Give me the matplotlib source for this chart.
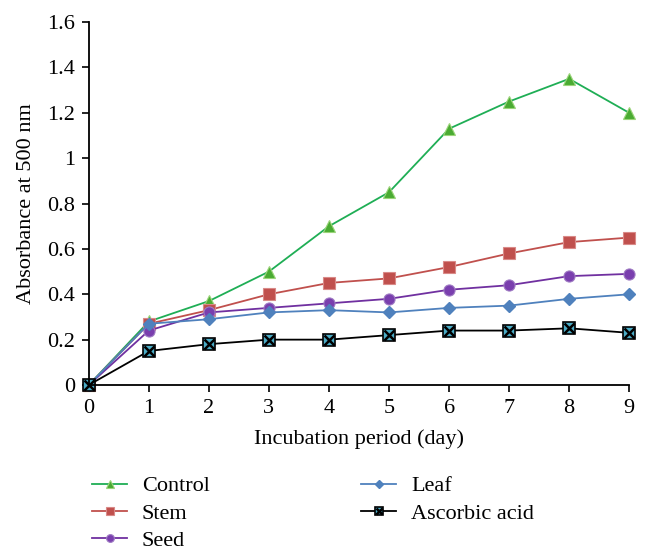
import matplotlib.pyplot as plt

plt.rcParams['font.family'] = ['Liberation Serif', 'DejaVu Serif']

days = [0, 1, 2, 3, 4, 5, 6, 7, 8, 9]
control = [0, 0.28, 0.37, 0.50, 0.70, 0.85, 1.13, 1.25, 1.35, 1.20]
stem = [0, 0.27, 0.33, 0.40, 0.45, 0.47, 0.52, 0.58, 0.63, 0.65]
seed = [0, 0.24, 0.32, 0.34, 0.36, 0.38, 0.42, 0.44, 0.48, 0.49]
leaf = [0, 0.27, 0.29, 0.32, 0.33, 0.32, 0.34, 0.35, 0.38, 0.40]
ascorbic = [0, 0.15, 0.18, 0.20, 0.20, 0.22, 0.24, 0.24, 0.25, 0.23]

fig = plt.figure(figsize=(6.48, 5.6), dpi=100)
ax = fig.add_axes([0.137, 0.3125, 0.834, 0.648])

h1, = ax.plot(days, control, color='#1fae55', lw=1.3, marker='^', ms=8,
              markerfacecolor='#4aab32', markeredgecolor='#9bd47a', markeredgewidth=0.8)
h2, = ax.plot(days, stem, color='#c0504d', lw=1.3, marker='s', ms=8,
              markerfacecolor='#c0504d', markeredgecolor='#d98a88', markeredgewidth=0.8)
h3, = ax.plot(days, seed, color='#7030a0', lw=1.3, marker='o', ms=8,
              markerfacecolor='#7a3fae', markeredgecolor='#a07cc4', markeredgewidth=0.8)
h4, = ax.plot(days, leaf, color='#4f81bd', lw=1.3, marker='D', ms=6.5,
              markerfacecolor='#4f81bd', markeredgecolor='#4f81bd')
h5, = ax.plot(days, ascorbic, color='black', lw=1.3, marker='s', ms=9,
              markerfacecolor='#4bacc6', markeredgecolor='black', markeredgewidth=1.2)
h5x, = ax.plot(days, ascorbic, ls='none', marker='x', ms=7, color='black', mew=1.8)

ax.set_xlim(0, 9)
ax.set_ylim(0, 1.6)
ax.set_xticks(days)
ax.set_yticks([0, 0.2, 0.4, 0.6, 0.8, 1.0, 1.2, 1.4, 1.6])
ax.set_yticklabels(['0', '0.2', '0.4', '0.6', '0.8', '1', '1.2', '1.4', '1.6'])
ax.spines['top'].set_visible(False)
ax.spines['right'].set_visible(False)
ax.spines['left'].set_linewidth(1.3)
ax.spines['bottom'].set_linewidth(1.3)
ax.tick_params(labelsize=16, width=1.2, length=5, pad=5)
for line in ax.get_lines():
    line.set_clip_on(False)

ax.set_xlabel('Incubation period (day)', fontsize=16, labelpad=8)
ax.set_ylabel('Absorbance at 500 nm', fontsize=16, labelpad=8)

fig.legend([h1, h2, h3, h4, (h5, h5x)],
           ['Control', 'Stem', 'Seed', 'Leaf', 'Ascorbic acid'],
           ncol=2, loc='upper left', bbox_to_anchor=(0.111, 0.186),
           frameon=False, fontsize=16, handlelength=1.6, columnspacing=6.8,
           labelspacing=0.3, handletextpad=0.65, markerscale=0.7)

fig.savefig('out.png', dpi=100)
